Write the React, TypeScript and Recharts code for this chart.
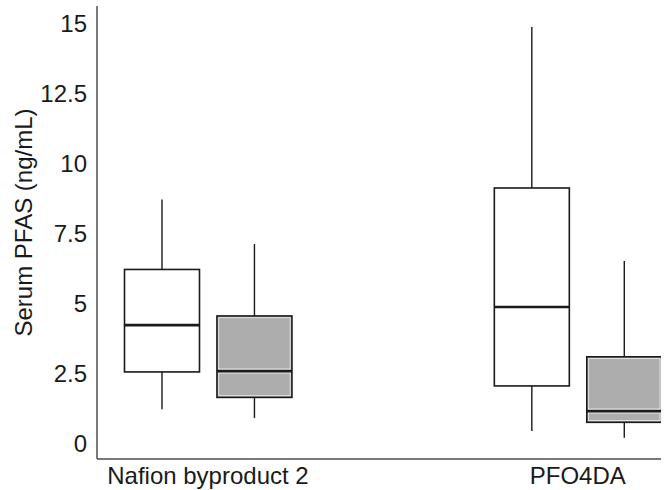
import React from 'react';
import { BarChart, Bar, XAxis, YAxis, Cell } from 'recharts';

// Categories (x-axis groups) and the two sub-series per group
const categories = ['Nafion byproduct 2', 'PFO4DA'];

// Series A (white boxes), one value per category
const seriesAMin = [1.21, 0.43];
const seriesAQ1 = [2.54, 2.04];
const seriesAMedian = [4.21, 4.86];
const seriesAQ3 = [6.2, 9.11];
const seriesAMax = [8.7, 14.86];

// Series B (gray boxes), one value per category
const seriesBMin = [0.89, 0.19];
const seriesBQ1 = [1.63, 0.74];
const seriesBMedian = [2.57, 1.14];
const seriesBQ3 = [4.54, 3.08];
const seriesBMax = [7.11, 6.5];

const yTicks = [0, 2.5, 5, 7.5, 10, 12.5, 15];

// layout: each category takes 4 slots (2 boxes + 2 empty)
const SLOTS_PER_CATEGORY = 4;
const WHITE = '#ffffff';
const GRAY = '#adadad';
const INK = '#1a1a1a';
const FONT = "'Liberation Sans', Arial, sans-serif";
const FONT_SIZE = 24;

type Row = {
  pos: number;
  sub: number;
  low: number;
  q1: number;
  median: number;
  q3: number;
  high: number;
};

const rows: Row[] = [];
categories.forEach((_, ci) => {
  rows.push({
    pos: ci * SLOTS_PER_CATEGORY,
    sub: 0,
    low: seriesAMin[ci],
    q1: seriesAQ1[ci],
    median: seriesAMedian[ci],
    q3: seriesAQ3[ci],
    high: seriesAMax[ci],
  });
  rows.push({
    pos: ci * SLOTS_PER_CATEGORY + 1,
    sub: 1,
    low: seriesBMin[ci],
    q1: seriesBQ1[ci],
    median: seriesBMedian[ci],
    q3: seriesBQ3[ci],
    high: seriesBMax[ci],
  });
});

const xTicks = categories.map((_, ci) => ci * SLOTS_PER_CATEGORY + 0.5);

const BoxShape = (props: any) => {
  const { x, y, width, height, payload, fill } = props;
  if (x == null || y == null || !payload) return null;
  const top = Math.min(y, y + height);
  const h = Math.abs(height);
  const { low, q1, median, q3, high } = payload as Row;
  const ppu = h / (q3 - q1);
  const toY = (v: number) => top + (q3 - v) * ppu;
  const cx = x + width / 2;
  const isGray = payload.sub === 1;
  const medY = toY(median);
  return (
    <g>
      <line x1={cx} x2={cx} y1={toY(high)} y2={top} stroke={INK} strokeWidth={1.4} />
      <line x1={cx} x2={cx} y1={top + h} y2={toY(low)} stroke={INK} strokeWidth={1.4} />
      <rect x={x} y={top} width={width} height={h} fill={fill} stroke={INK} strokeWidth={1.6} />
      {isGray && (
        <>
          <rect
            x={x + 1.8}
            y={top + 1.8}
            width={width - 3.6}
            height={h - 3.6}
            fill="none"
            stroke="#ffffff"
            strokeOpacity={0.7}
            strokeWidth={0.9}
          />
          <line x1={x + 1.5} x2={x + width - 1.5} y1={medY} y2={medY} stroke="#ffffff" strokeOpacity={0.7} strokeWidth={5} />
        </>
      )}
      <line x1={x} x2={x + width} y1={medY} y2={medY} stroke={INK} strokeWidth={2.6} />
    </g>
  );
};

export default function App() {
  return (
    <div style={{ position: 'absolute', left: 0, top: 0 }}>
      <BarChart
        width={666}
        height={490}
        data={rows}
        margin={{ top: 6, right: 5, bottom: 0, left: 0 }}
        style={{ fontFamily: FONT }}
      >
        <XAxis
          dataKey="pos"
          type="number"
          domain={[-0.7, 5.4]}
          allowDataOverflow
          ticks={xTicks}
          tickFormatter={(v: number) => categories[Math.round((v - 0.5) / SLOTS_PER_CATEGORY)] ?? ''}
          height={31}
          tickLine={false}
          tickMargin={2}
          axisLine={{ stroke: '#4d4d4d', strokeWidth: 1.5 }}
          tick={{ fill: INK, fontSize: FONT_SIZE, fontFamily: FONT }}
          interval={0}
        />
        <YAxis
          type="number"
          domain={[-0.57, 15.61]}
          allowDataOverflow
          ticks={yTicks}
          width={97}
          tickLine={false}
          tickMargin={4}
          axisLine={{ stroke: '#4d4d4d', strokeWidth: 1.5 }}
          tick={{ fill: INK, fontSize: FONT_SIZE, fontFamily: FONT }}
          label={{
            value: 'Serum PFAS (ng/mL)',
            angle: -90,
            position: 'center',
            dx: -25,
            dy: -10,
            fill: INK,
            fontSize: FONT_SIZE,
            fontFamily: FONT,
          }}
        />
        <Bar
          dataKey={(d: Row) => [d.q1, d.q3]}
          barSize={75}
          shape={BoxShape}
          isAnimationActive={false}
        >
          {rows.map((r, i) => (
            <Cell key={i} fill={r.sub === 0 ? WHITE : GRAY} />
          ))}
        </Bar>
      </BarChart>
    </div>
  );
}
